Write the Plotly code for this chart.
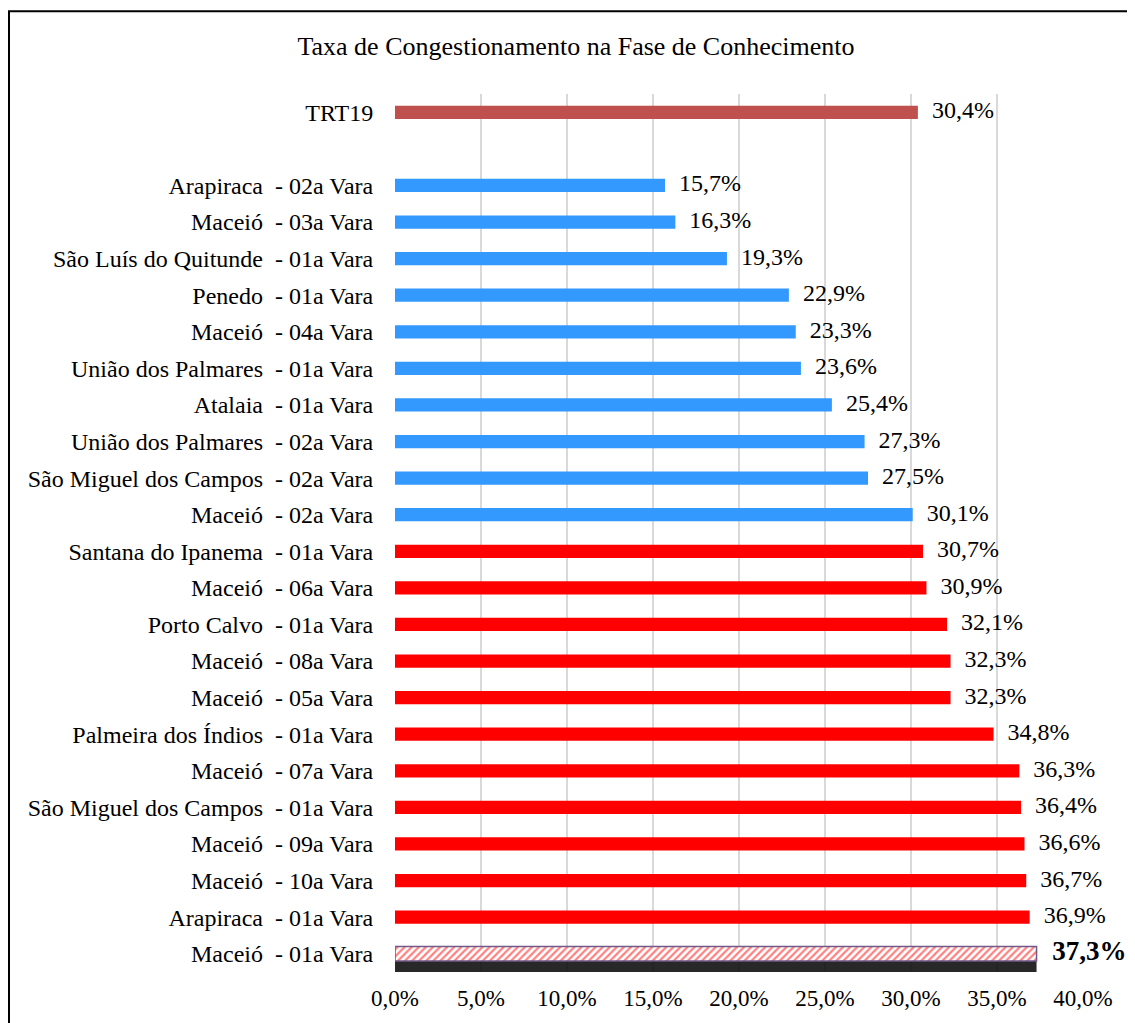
import plotly.graph_objects as go

# ---- data ----
reference_label = "TRT19"
reference_value = 30.4

varas = [
    "Arapiraca  - 02a Vara",
    "Maceió  - 03a Vara",
    "São Luís do Quitunde  - 01a Vara",
    "Penedo  - 01a Vara",
    "Maceió  - 04a Vara",
    "União dos Palmares  - 01a Vara",
    "Atalaia  - 01a Vara",
    "União dos Palmares  - 02a Vara",
    "São Miguel dos Campos  - 02a Vara",
    "Maceió  - 02a Vara",
    "Santana do Ipanema  - 01a Vara",
    "Maceió  - 06a Vara",
    "Porto Calvo  - 01a Vara",
    "Maceió  - 08a Vara",
    "Maceió  - 05a Vara",
    "Palmeira dos Índios  - 01a Vara",
    "Maceió  - 07a Vara",
    "São Miguel dos Campos  - 01a Vara",
    "Maceió  - 09a Vara",
    "Maceió  - 10a Vara",
    "Arapiraca  - 01a Vara",
    "Maceió  - 01a Vara",
]
taxas = [15.7, 16.3, 19.3, 22.9, 23.3, 23.6, 25.4, 27.3, 27.5, 30.1,
         30.7, 30.9, 32.1, 32.3, 32.3, 34.8, 36.3, 36.4, 36.6, 36.7, 36.9, 37.3]
x_ticks = [0, 5, 10, 15, 20, 25, 30, 35, 40]
title = "Taxa de Congestionamento na Fase de Conhecimento"

# ---- styling ----
FONT = "Liberation Serif, Times New Roman, serif"
C_REF = "#C0504D"
C_BELOW = "#3399FF"
C_ABOVE = "#FF0000"

W, H = 1127, 1015
L, R, T, B = 387, 52, 86, 38
PW, PH = W - L - R, H - T - B

def fmt(v):
    return f"{v:.1f}".replace(".", ",") + "%"

def cat(s):
    return s.replace("  ", "\u00a0 ")

gap = "\u2002"
cats = [reference_label, gap] + [cat(v) for v in varas]

imax = taxas.index(max(taxas))
normal_idx = [i for i in range(len(taxas)) if i != imax]

fig = go.Figure()

fig.add_trace(go.Bar(
    x=[reference_value], y=[reference_label], orientation="h",
    marker=dict(color=C_REF, line=dict(width=0)), width=0.36, showlegend=False,
))

fig.add_trace(go.Bar(
    x=[taxas[i] for i in normal_idx],
    y=[cat(varas[i]) for i in normal_idx],
    orientation="h",
    marker=dict(color=[C_BELOW if taxas[i] < reference_value else C_ABOVE for i in normal_idx],
                line=dict(width=0)),
    width=0.36, showlegend=False,
))

# shadow for highlighted bar
fig.add_trace(go.Bar(
    x=[taxas[imax]], y=[cat(varas[imax])], orientation="h",
    marker=dict(color="rgba(10,10,10,0.88)", line=dict(width=0)),
    width=0.5, offset=0.0, showlegend=False, hoverinfo="skip",
))

# highlighted bar (pattern)
fig.add_trace(go.Bar(
    x=[taxas[imax]], y=[cat(varas[imax])], orientation="h",
    marker=dict(color="white",
                pattern=dict(shape="/", fgcolor=C_ABOVE, bgcolor="white", size=5, solidity=0.45),
                line=dict(color="#6F5A8A", width=1.5)),
    width=0.4, showlegend=False,
))

# value labels
pad = "\u00a0\u00a0\u200a"
lab_x = [reference_value] + taxas
lab_y = [reference_label] + [cat(v) for v in varas]
lab_t = [pad + fmt(reference_value)] + [
    (pad + "<b>" + fmt(v) + "</b>") if i == imax else (pad + fmt(v))
    for i, v in enumerate(taxas)
]
lab_s = [24] + [27 if i == imax else 24 for i in range(len(taxas))]
fig.add_trace(go.Scatter(
    x=lab_x, y=lab_y, mode="text", text=lab_t, textposition="middle right",
    textfont=dict(family=FONT, size=lab_s, color="black"),
    cliponaxis=False, showlegend=False, hoverinfo="skip",
))

# outer frame
fig.add_shape(type="rect", xref="paper", yref="paper",
              x0=(1 - L) / PW, x1=1.3, y0=-0.3, y1=(T + PH - 2) / PH,
              line=dict(color="black", width=2), fillcolor="rgba(0,0,0,0)", layer="below")

fig.update_layout(
    width=W, height=H,
    margin=dict(l=L, r=R, t=T, b=B, pad=0),
    paper_bgcolor="white", plot_bgcolor="white",
    barmode="overlay",
    font=dict(family=FONT, size=24, color="black"),
    title=dict(text=title, x=568 / W, xref="container", xanchor="center",
               y=1 - 38 / H, yref="container", yanchor="middle",
               font=dict(family=FONT, size=26, color="black")),
    xaxis=dict(range=[0, 40], tickvals=x_ticks, ticktext=[fmt(t) for t in x_ticks],
               showgrid=True, gridcolor="#D9D9D9", gridwidth=2, zeroline=False,
               showline=False, ticks="outside", ticklen=5, tickcolor="rgba(0,0,0,0)",
               tickfont=dict(family=FONT, size=23), fixedrange=True),
    yaxis=dict(type="category", categoryorder="array", categoryarray=cats,
               range=[len(cats) - 0.5, -0.5], showgrid=False, zeroline=False, showline=False,
               ticks="outside", ticklen=16, tickcolor="rgba(0,0,0,0)",
               tickfont=dict(family=FONT, size=24)),
)

fig.write_html("out.html")
